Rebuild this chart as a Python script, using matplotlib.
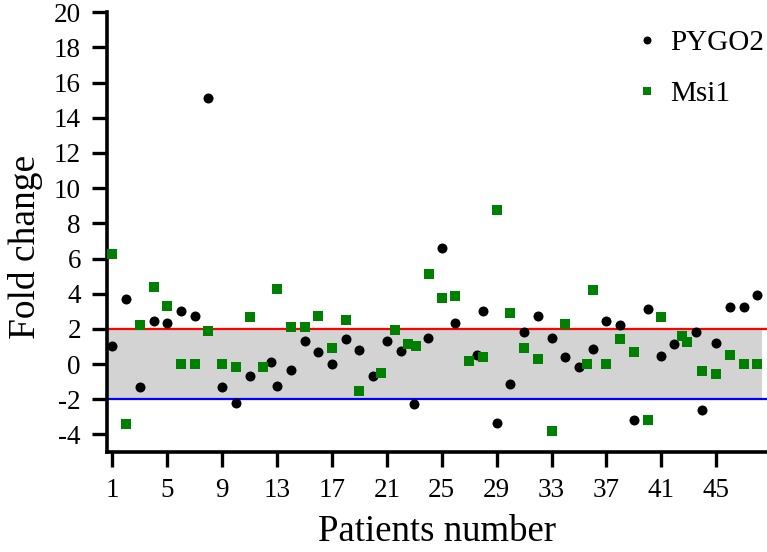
import matplotlib
matplotlib.use("Agg")
import matplotlib.pyplot as plt

# ---- data ----
pygo2_x = [1, 2, 3, 4, 5, 6, 7, 8, 9, 10, 11, 12.55, 13, 14, 15, 16, 17, 18, 19, 20,
           21, 22, 23, 24, 25, 26, 27.55, 28, 29, 30, 31, 32, 33, 34, 35, 36, 37, 38,
           39, 40, 41, 41.9, 43.5, 44, 45, 46, 47, 48]
pygo2_y = [1.03, 3.69, -1.30, 2.46, 2.34, 3.01, 2.72, 15.10, -1.32, -2.20, -0.70, 0.10,
           -1.23, -0.32, 1.34, 0.68, 0.00, 1.43, 0.80, -0.68, 1.32, 0.77, -2.25, 1.47,
           6.60, 2.34, 0.50, 3.01, -3.32, -1.11, 1.80, 2.74, 1.49, 0.41, -0.16, 0.83,
           2.46, 2.25, -3.15, 3.14, 0.44, 1.17, 1.85, -2.63, 1.19, 3.26, 3.26, 3.90]

msi1_x = [1, 2, 3, 4, 5, 6, 7, 8, 9, 10, 11, 12, 13, 14, 15, 16, 17, 18, 19, 20.6,
          21.6, 22.55, 23.1, 24.1, 25, 26, 26.95, 28, 29, 30, 31, 32, 33, 34, 35.55,
          36, 37, 38, 39, 40, 41, 42.5, 42.9, 44, 45, 46, 47, 48]
msi1_y = [6.26, -3.39, 2.25, 4.40, 3.30, 0.0, 0.0, 1.87, 0.0, -0.18, 2.65, -0.18,
          4.25, 2.12, 2.12, 2.72, 0.92, 2.52, -1.55, -0.51, 1.93, 1.15, 1.01, 5.14,
          3.77, 3.87, 0.18, 0.39, 8.77, 2.90, 0.94, 0.31, -3.81, 2.27, 0.0, 4.23,
          0.0, 1.40, 0.66, -3.20, 2.69, 1.62, 1.23, -0.39, -0.58, 0.52, 0.0, 0.0]

x_ticks = [1, 5, 9, 13, 17, 21, 25, 29, 33, 37, 41, 45]
y_ticks = [-4, -2, 0, 2, 4, 6, 8, 10, 12, 14, 16, 18, 20]
upper_cut = 2
lower_cut = -2
series_names = ["PYGO2", "Msi1"]

plt.rcParams['font.family'] = ['Liberation Serif', 'DejaVu Serif']

fig = plt.figure(figsize=(7.67, 5.52), dpi=100)
ax = fig.add_axes([0.139, 0.181, 0.861, 0.797])

ax.set_xlim(0.58, 48.7)
ax.set_ylim(-5, 20)

ax.fill_between([0.58, 48.32], lower_cut, upper_cut, color='#d3d3d3', zorder=1, linewidth=0)
ax.axhline(upper_cut, color='#ff0000', lw=1.6, zorder=2)
ax.axhline(lower_cut, color='#0000ff', lw=1.6, zorder=2)

ax.plot(pygo2_x, pygo2_y, linestyle='none', marker='o', color='black',
        markersize=7.2, markeredgewidth=0, label=series_names[0], zorder=3)
ax.plot(msi1_x, msi1_y, linestyle='none', marker='s', color='#008000',
        markersize=7.0, markeredgewidth=0, label=series_names[1], zorder=3)

for s in ['top', 'right']:
    ax.spines[s].set_visible(False)
for s in ['left', 'bottom']:
    ax.spines[s].set_linewidth(2.6)

ax.set_xticks(x_ticks)
ax.set_yticks(y_ticks)
ax.set_yticklabels([str(t) for t in y_ticks])
ax.tick_params(axis='both', direction='out', length=10.5, width=2.4, labelsize=19.5)
ax.tick_params(axis='y', pad=8)
ax.tick_params(axis='x', pad=8)

ax.set_xlabel("Patients number", fontsize=26.5)
ax.set_ylabel("Fold change", fontsize=27)
ax.xaxis.set_label_coords(0.5, -0.142)
ax.xaxis.label.set_va('top')
ax.yaxis.set_label_coords(-0.097, 0.466)

leg = ax.legend(loc='upper right', bbox_to_anchor=(1.0, 0.967), frameon=False,
                fontsize=21, markerscale=0.8, handlelength=0.5, handletextpad=0.55,
                labelspacing=0.85, borderaxespad=0.0, borderpad=0.1)

fig.savefig("out.png", dpi=100)
